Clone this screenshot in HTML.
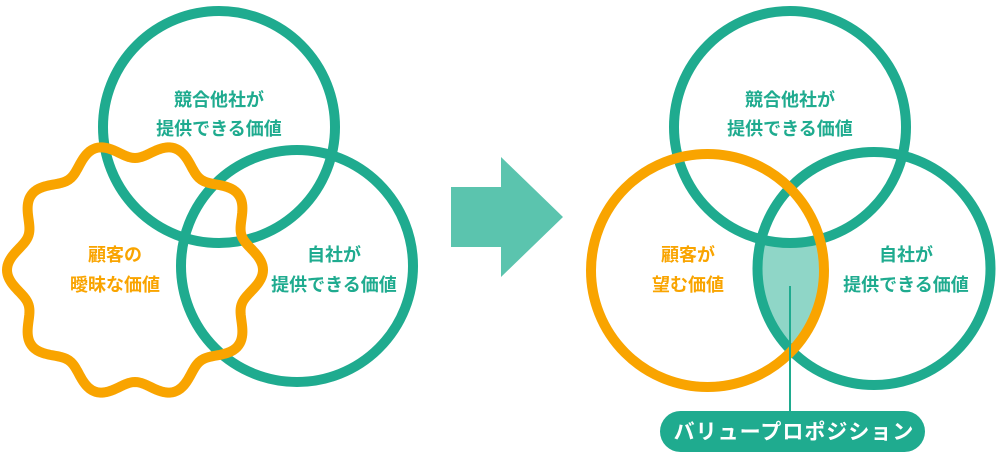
<!DOCTYPE html>
<html><head><meta charset="utf-8"><style>
html,body{margin:0;padding:0;background:#fff;}
svg{display:block;}
text{font-family:"Liberation Sans","Noto Sans CJK JP",sans-serif;font-weight:bold;font-size:18px;text-anchor:middle;}
</style></head><body>
<svg width="1000" height="458" viewBox="0 0 1000 458" xmlns="http://www.w3.org/2000/svg">
<defs>
<clipPath id="cO"><circle cx="707.5" cy="270.5" r="116.5"/></clipPath>
</defs>
<!-- LEFT -->
<circle cx="219" cy="127" r="116" fill="none" stroke="#1fab8f" stroke-width="10"/>
<circle cx="297" cy="266" r="116" fill="none" stroke="#1fab8f" stroke-width="10"/>
<polygon id="wavy" fill="none" stroke="#f9a400" stroke-width="10" stroke-linejoin="round"/>
<text x="219" y="106" fill="#1fab8f">競合他社が</text>
<text x="219" y="135" fill="#1fab8f">提供できる価値</text>
<text x="334" y="261" fill="#1fab8f">自社が</text>
<text x="334" y="291" fill="#1fab8f">提供できる価値</text>
<text x="115" y="261" fill="#f9a400">顧客の</text>
<text x="115" y="291" fill="#f9a400">曖昧な価値</text>
<!-- ARROW -->
<polygon points="451,187 501,187 501,157 563,217 501,277 501,247 451,247" fill="#5bc4ae"/>
<!-- RIGHT -->
<circle cx="874" cy="268.5" r="116.5" fill="#8fd6c7" clip-path="url(#cO)"/>
<circle cx="790" cy="127" r="116" fill="#fff" stroke="#1fab8f" stroke-width="10"/>
<circle cx="874" cy="268.5" r="116.5" fill="none" stroke="#1fab8f" stroke-width="10"/>
<circle cx="707.5" cy="270.5" r="116.5" fill="none" stroke="#f9a400" stroke-width="10"/>
<text x="790" y="106" fill="#1fab8f">競合他社が</text>
<text x="790" y="135" fill="#1fab8f">提供できる価値</text>
<text x="906" y="261" fill="#1fab8f">自社が</text>
<text x="906" y="291" fill="#1fab8f">提供できる価値</text>
<text x="688" y="261" fill="#f9a400">顧客が</text>
<text x="688" y="291" fill="#f9a400">望む価値</text>
<line x1="790" y1="286" x2="790" y2="412" stroke="#1fab8f" stroke-width="2"/>
<rect x="660" y="411" width="265" height="41" rx="20.5" fill="#1fab8f"/>
<text x="794" y="439" fill="#fff" style="font-size:21px;letter-spacing:1px">バリュープロポジション</text>
</svg>
<script>
var pts=[];for(var i=0;i<360;i++){var t=i/360*2*Math.PI;var r=120+8*Math.cos(10*(t-Math.PI));pts.push((135+r*Math.cos(t)).toFixed(2)+","+(270+r*Math.sin(t)).toFixed(2));}
document.getElementById("wavy").setAttribute("points",pts.join(" "));
</script>
</body></html>
